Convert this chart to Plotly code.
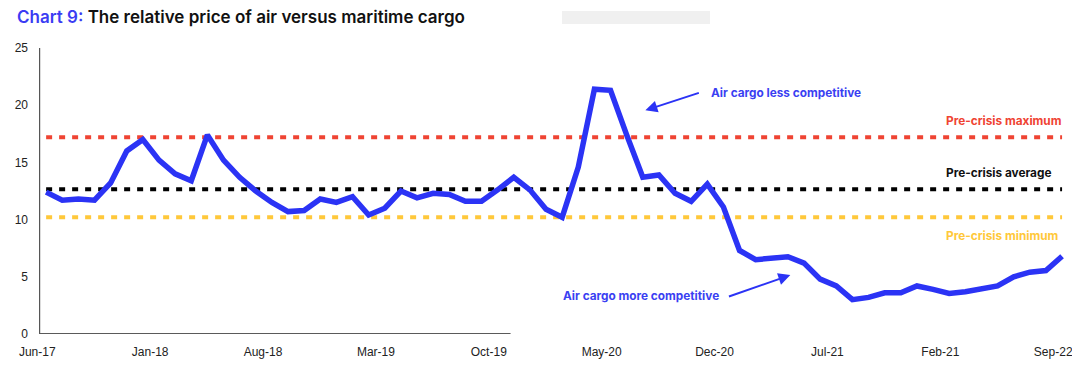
import plotly.graph_objects as go

# ---- data ----
months = ["Jun-17","Jul-17","Aug-17","Sep-17","Oct-17","Nov-17","Dec-17",
          "Jan-18","Feb-18","Mar-18","Apr-18","May-18","Jun-18","Jul-18",
          "Aug-18","Sep-18","Oct-18","Nov-18","Dec-18","Jan-19","Feb-19",
          "Mar-19","Apr-19","May-19","Jun-19","Jul-19","Aug-19","Sep-19",
          "Oct-19","Nov-19","Dec-19","Jan-20","Feb-20","Mar-20","Apr-20",
          "May-20","Jun-20","Jul-20","Aug-20","Sep-20","Oct-20","Nov-20",
          "Dec-20","Jan-21","Feb-21","Mar-21","Apr-21","May-21","Jun-21",
          "Jul-21","Aug-21","Sep-21","Oct-21","Nov-21","Dec-21","Jan-22",
          "Feb-22","Mar-22","Apr-22","May-22","Jun-22","Jul-22","Aug-22","Sep-22"]
relative_price = [12.4, 11.7, 11.8, 11.7, 13.2, 16.0, 17.0, 15.2, 14.0, 13.4,
                  17.4, 15.2, 13.7, 12.5, 11.5, 10.7, 10.8, 11.8, 11.5, 12.0,
                  10.4, 11.0, 12.5, 11.9, 12.3, 12.2, 11.6, 11.6, 12.6, 13.7,
                  12.6, 10.9, 10.2, 14.6, 21.4, 21.3, 17.4, 13.7, 13.9, 12.3,
                  11.6, 13.1, 11.1, 7.3, 6.5, 6.6, 6.75, 6.2, 4.8, 4.2,
                  3.0, 3.2, 3.6, 3.6, 4.2, 3.9, 3.55, 3.7, 4.0, 4.2,
                  5.0, 5.4, 5.55, 6.8]
pre_crisis_max = 17.2
pre_crisis_avg = 12.65
pre_crisis_min = 10.2
tick_labels = ["Jun-17","Jan-18","Aug-18","Mar-19","Oct-19","May-20",
               "Dec-20","Jul-21","Feb-21","Sep-22"]
y_ticks = [0, 5, 10, 15, 20, 25]

BLUE = "#2b33f5"
RED = "#ef4433"
BLACK = "#000000"
YELLOW = "#ffc83a"

idx = list(range(len(months)))
tick_pos = [i * 7 - 0.55 for i in range(len(tick_labels))]

X_MIN = -1.0
Y_AXIS_X = -0.4
axis_line_end = 28.8

fig = go.Figure()

for val, col in [(pre_crisis_max, RED), (pre_crisis_avg, BLACK), (pre_crisis_min, YELLOW)]:
    fig.add_trace(go.Scatter(x=[idx[0], idx[-1]], y=[val, val], mode="lines",
                             line=dict(color=col, width=4, dash="6px,7px"),
                             hoverinfo="skip", showlegend=False))

fig.add_trace(go.Scatter(x=idx, y=relative_price, mode="lines",
                         line=dict(color=BLUE, width=5.5),
                         text=months, showlegend=False))

# axis lines as in the original (y axis, and a partial x baseline)
fig.add_shape(type="line", xref="x", yref="y", x0=Y_AXIS_X, x1=Y_AXIS_X, y0=0, y1=25,
              line=dict(color="#333333", width=1), layer="below")
fig.add_shape(type="line", xref="x", yref="y", x0=Y_AXIS_X, x1=axis_line_end, y0=0, y1=0,
              line=dict(color="#5a5a5a", width=2), layer="below")

# blurred watermark area
fig.add_shape(type="rect", xref="paper", yref="paper",
              x0=(562 - 30) / 1044, x1=(710 - 30) / 1044,
              y0=1 + (48 - 24) / 286, y1=1 + (48 - 11) / 286,
              fillcolor="#f0f0f0", line=dict(width=0), layer="below")

ann_font = dict(family="Inter, Roboto, sans-serif", size=11.8, weight=700)

def add_label(text, x, y, color):
    fig.add_annotation(x=x, y=y, xref="x", yref="y", text=text, showarrow=False,
                       xanchor="left", yanchor="middle",
                       font=dict(ann_font, color=color))

add_label("Air cargo less competitive", 41.1, 21.03, "#3a3ff2")
add_label("Air cargo more competitive", 31.9, 3.32, "#3a3ff2")
add_label("Pre-crisis maximum", 55.7, 18.59, RED)
add_label("Pre-crisis average", 55.7, 14.05, "#111111")
add_label("Pre-crisis minimum", 55.7, 8.55, YELLOW)

for (hx, hy, tx, ty) in [(37.16, 19.55, 40.57, 21.12), (46.15, 5.15, 42.25, 3.23)]:
    fig.add_annotation(x=hx, y=hy, ax=tx, ay=ty, xref="x", yref="y",
                       axref="x", ayref="y", text="", showarrow=True,
                       arrowhead=2, arrowsize=1.2, arrowwidth=2, arrowcolor=BLUE)

W, H = 1072, 361  # page body has an 8px margin
fig.update_layout(
    width=W, height=H,
    margin=dict(l=22, r=6, t=40, b=35),
    paper_bgcolor="white", plot_bgcolor="white",
    title=dict(
        text='<span style="color:#3b3cf3">Chart 9:</span> The relative price of air versus maritime cargo',
        x=9 / W, xanchor="left", xref="container",
        y=1 - 9 / H, yanchor="middle", yref="container",
        font=dict(family="Inter, Roboto, sans-serif", size=17, weight=600, color="#111111")),
    xaxis=dict(range=[X_MIN, 63.74], showgrid=False, zeroline=False, showline=False,
               tickmode="array", tickvals=tick_pos, ticktext=tick_labels, ticks="",
               ticklabelstandoff=9,
               tickfont=dict(family="Liberation Sans, Arial, sans-serif", size=12, color="#222222")),
    yaxis=dict(range=[0, 25], showgrid=False, zeroline=False, showline=False,
               tickmode="array", tickvals=y_ticks,
               ticks="", ticklabelstandoff=1,
               tickfont=dict(family="Liberation Sans, Arial, sans-serif", size=12, color="#222222")),
    hovermode="closest",
)

fig.write_html("out.html")
